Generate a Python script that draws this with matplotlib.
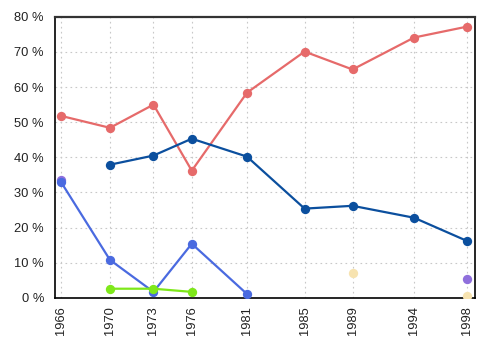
import matplotlib
matplotlib.use("Agg")
import matplotlib.pyplot as plt
from matplotlib.ticker import FuncFormatter

plt.rcParams['font.family'] = ['Liberation Sans', 'DejaVu Sans']

# election labels and approximate election dates (decimal years)
labels = ["1966", "1970", "1973", "1976", "1981", "1985", "1989", "1994", "1998"]
dates = [1966.0, 1969.86, 1973.29, 1976.31, 1980.66, 1985.2, 1988.98, 1993.83, 1998.0]

# series (None = no value)
red = [51.8, 48.4, 55.0, 36.2, 58.4, 70.1, 65.0, 74.1, 77.2]
dark_blue = [None, 37.9, 40.5, 45.3, 40.2, 25.4, 26.2, 22.8, 16.2]
blue = [33.0, 10.8, 1.7, 15.4, 1.1, None, None, None, None]
green = [None, 2.6, 2.6, 1.7, None, None, None, None, None]
purple = [33.5, None, None, None, None, None, None, None, 5.4]
beige = [None, None, None, None, None, None, 7.1, None, 0.6]

# drawn in this order (later ones on top)
series = [
    (purple, "#8f6fdc"),
    (beige, "#f7e3b0"),
    (red, "#e66a6a"),
    (dark_blue, "#0b4f9e"),
    (blue, "#4a6ae0"),
    (green, "#7ee81a"),
]

fig = plt.figure(figsize=(5, 3.5), dpi=100)
ax = fig.add_axes([0.11, 0.149, 0.84, 0.803])

for vals, col in series:
    xs = [d for d, v in zip(dates, vals) if v is not None]
    vs = [v for v in vals if v is not None]
    # lines only between consecutive elections
    seg_x, seg_y = [], []
    for d, v in zip(dates, vals):
        if v is None:
            if len(seg_x) > 1:
                ax.plot(seg_x, seg_y, color=col, lw=1.6, zorder=2)
            seg_x, seg_y = [], []
        else:
            seg_x.append(d)
            seg_y.append(v)
    if len(seg_x) > 1:
        ax.plot(seg_x, seg_y, color=col, lw=1.6, zorder=2)
    ax.scatter(xs, vs, color=col, s=45, zorder=3, linewidths=0)

ax.set_xlim(1965.53, 1998.63)
ax.set_ylim(0, 80)
ax.set_xticks(dates)
ax.set_xticklabels(labels, rotation=90)
ax.set_yticks(range(0, 81, 10))
ax.yaxis.set_major_formatter(FuncFormatter(lambda v, p: f"{int(v)} %"))
ax.tick_params(labelsize=9.3, length=0, colors="#222222")
ax.tick_params(axis='x', pad=6)
ax.tick_params(axis='y', pad=8)
ax.grid(True, color="#c8c8c8", linestyle=(0, (1.5, 3)), lw=0.8)
ax.set_axisbelow(True)
for s in ax.spines.values():
    s.set_color("black")
    s.set_linewidth(1.2)
ax.spines['top'].set_color("#333333")
ax.spines['top'].set_linewidth(1.6)

fig.savefig("out.png", dpi=100)
